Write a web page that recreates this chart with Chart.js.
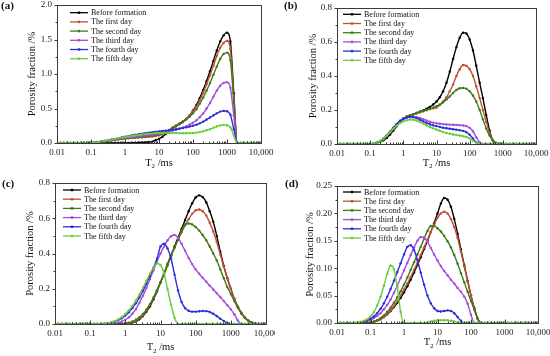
<!DOCTYPE html>
<html lang="en">
<head>
<meta charset="UTF-8">
<title>T2 spectra</title>
<script src="https://cdn.jsdelivr.net/npm/chart.js"></script>
<style>
  body { margin: 0; background: #fff; width: 550px; height: 356px; overflow: hidden; position: relative; }
  canvas { position: absolute; }
</style>
</head>
<body>
<canvas id="pa" width="275" height="178" style="left:0;top:0"></canvas>
<canvas id="pb" width="275" height="178" style="left:275px;top:0"></canvas>
<canvas id="pc" width="275" height="178" style="left:0;top:178px"></canvas>
<canvas id="pd" width="275" height="178" style="left:275px;top:178px"></canvas>
<script>
// T2 relaxation times (ms), shared by all four panels
const T2 = [
  0.01, 0.0126, 0.0158, 0.02, 0.0251, 0.0316, 0.0398, 0.0501, 0.0631, 0.0794,
  0.1, 0.126, 0.158, 0.2, 0.251, 0.316, 0.398, 0.501, 0.631, 0.794,
  1, 1.26, 1.58, 2, 2.51, 3.16, 3.98, 5.01, 6.31, 7.94,
  10, 12.6, 15.8, 20, 25.1, 31.6, 39.8, 50.1, 63.1, 79.4,
  100, 126, 158, 200, 251, 316, 398, 501, 631, 794,
  1000, 1259, 1585, 1995, 2512, 3162, 3981, 5012, 6310, 7943,
  10000
];
const seriesNames = ['Before formation', 'The first day', 'The second day', 'The third day', 'The fourth day', 'The fifth day'];
const xTickValues = [0.01, 0.1, 1, 10, 100, 1000, 10000];
const xTickLabels = ['0.01', '0.1', '1', '10', '100', '1000', '10,000'];
const colors = ['#000000', '#c24f33', '#3d7a1c', '#a24ddb', '#2b2fd6', '#6ccb3d'];

// panel (a)
const aBefore = [
  0, 0, 0, 0, 0, 0, 0, 0, 0, 0,
  0, 0, 0, 0, 0, 0, 0, 0, 0, 0,
  0, 0, 0.003, 0.005, 0.007, 0.009, 0.011, 0.014, 0.02, 0.04,
  0.06, 0.09, 0.13, 0.18, 0.22, 0.25, 0.28, 0.31, 0.35, 0.4,
  0.47, 0.55, 0.65, 0.77, 0.9, 1.04, 1.19, 1.34, 1.47, 1.56,
  1.6, 1.47, 0.72, 0, 0, 0, 0, 0, 0, 0,
  0
];
const aDay1 = [
  0, 0, 0, 0, 0, 0, 0, 0, 0, 0,
  0.003, 0.006, 0.01, 0.015, 0.02, 0.027, 0.035, 0.042, 0.05, 0.056,
  0.062, 0.067, 0.071, 0.075, 0.078, 0.081, 0.085, 0.089, 0.094, 0.1,
  0.11, 0.13, 0.16, 0.19, 0.22, 0.25, 0.28, 0.31, 0.35, 0.4,
  0.46, 0.53, 0.62, 0.73, 0.85, 0.98, 1.12, 1.26, 1.38, 1.45,
  1.48, 1.36, 0.67, 0, 0, 0, 0, 0, 0, 0,
  0
];
const aDay2 = [
  0, 0, 0, 0, 0, 0, 0, 0, 0, 0,
  0.004, 0.008, 0.013, 0.019, 0.026, 0.034, 0.042, 0.05, 0.057, 0.063,
  0.068, 0.073, 0.078, 0.083, 0.088, 0.093, 0.098, 0.104, 0.11, 0.117,
  0.125, 0.14, 0.16, 0.185, 0.21, 0.24, 0.27, 0.3, 0.34, 0.38,
  0.43, 0.49, 0.57, 0.66, 0.76, 0.87, 0.99, 1.11, 1.22, 1.29,
  1.31, 1.2, 0.6, 0, 0, 0, 0, 0, 0, 0,
  0
];
const aDay3 = [
  0, 0, 0, 0, 0, 0, 0, 0, 0, 0,
  0.004, 0.008, 0.014, 0.02, 0.028, 0.036, 0.045, 0.053, 0.06, 0.067,
  0.073, 0.079, 0.085, 0.091, 0.097, 0.103, 0.109, 0.116, 0.123, 0.13,
  0.138, 0.147, 0.157, 0.168, 0.18, 0.193, 0.207, 0.222, 0.24, 0.265,
  0.295, 0.33, 0.375, 0.43, 0.5, 0.58, 0.67, 0.76, 0.83, 0.87,
  0.88, 0.8, 0.4, 0, 0, 0, 0, 0, 0, 0,
  0
];
const aDay4 = [
  0, 0, 0, 0, 0, 0, 0, 0, 0, 0,
  0.005, 0.01, 0.016, 0.023, 0.031, 0.04, 0.05, 0.06, 0.07, 0.08,
  0.09, 0.1, 0.11, 0.12, 0.128, 0.136, 0.143, 0.15, 0.156, 0.162,
  0.168, 0.174, 0.18, 0.186, 0.193, 0.2, 0.208, 0.217, 0.227, 0.238,
  0.25, 0.265, 0.285, 0.31, 0.34, 0.37, 0.4, 0.43, 0.455, 0.465,
  0.46, 0.41, 0.2, 0, 0, 0, 0, 0, 0, 0,
  0
];
const aDay5 = [
  0, 0, 0, 0, 0, 0, 0, 0, 0, 0,
  0.005, 0.01, 0.016, 0.023, 0.031, 0.04, 0.05, 0.06, 0.07, 0.078,
  0.086, 0.094, 0.102, 0.11, 0.117, 0.124, 0.13, 0.135, 0.139, 0.142,
  0.144, 0.145, 0.146, 0.146, 0.145, 0.144, 0.143, 0.142, 0.142, 0.143,
  0.145, 0.15, 0.158, 0.17, 0.185, 0.2, 0.22, 0.24, 0.255, 0.262,
  0.258, 0.225, 0.11, 0, 0, 0, 0, 0, 0, 0,
  0
];

// panel (b)
const bBefore = [
  0, 0, 0, 0, 0, 0, 0, 0, 0, 0,
  0, 0.002, 0.006, 0.012, 0.022, 0.036, 0.055, 0.08, 0.105, 0.13,
  0.148, 0.16, 0.168, 0.175, 0.182, 0.19, 0.198, 0.207, 0.218, 0.232,
  0.25, 0.275, 0.31, 0.36, 0.425, 0.5, 0.57, 0.625, 0.655, 0.65,
  0.615, 0.55, 0.46, 0.36, 0.27, 0.17, 0.08, 0.02, 0, 0,
  0, 0, 0, 0, 0, 0, 0, 0, 0, 0,
  0
];
const bDay1 = [
  0, 0, 0, 0, 0, 0, 0, 0, 0, 0,
  0, 0.003, 0.008, 0.016, 0.028, 0.045, 0.065, 0.09, 0.113, 0.135,
  0.15, 0.16, 0.168, 0.175, 0.181, 0.187, 0.193, 0.199, 0.205, 0.21,
  0.215, 0.23, 0.25, 0.275, 0.31, 0.35, 0.4, 0.44, 0.465, 0.46,
  0.44, 0.4, 0.34, 0.27, 0.2, 0.13, 0.065, 0.02, 0, 0,
  0, 0, 0, 0, 0, 0, 0, 0, 0, 0,
  0
];
const bDay2 = [
  0, 0, 0, 0, 0, 0, 0, 0, 0, 0,
  0, 0.003, 0.008, 0.016, 0.028, 0.045, 0.066, 0.09, 0.113, 0.135,
  0.15, 0.16, 0.168, 0.175, 0.182, 0.188, 0.194, 0.2, 0.207, 0.214,
  0.222, 0.232, 0.245, 0.262, 0.28, 0.3, 0.318, 0.328, 0.33, 0.325,
  0.31, 0.285, 0.25, 0.2, 0.145, 0.09, 0.05, 0.022, 0.007, 0,
  0, 0, 0, 0, 0, 0, 0, 0, 0, 0,
  0
];
const bDay3 = [
  0, 0, 0, 0, 0, 0, 0, 0, 0, 0,
  0, 0.003, 0.009, 0.018, 0.032, 0.05, 0.072, 0.095, 0.117, 0.135,
  0.148, 0.155, 0.159, 0.16, 0.158, 0.153, 0.146, 0.138, 0.131, 0.126,
  0.122, 0.119, 0.117, 0.115, 0.114, 0.113, 0.112, 0.111, 0.109, 0.105,
  0.095, 0.075, 0.04, 0.01, 0, 0, 0, 0, 0, 0,
  0, 0, 0, 0, 0, 0, 0, 0, 0, 0,
  0
];
const bDay4 = [
  0, 0, 0, 0, 0, 0, 0, 0, 0, 0,
  0, 0.003, 0.009, 0.018, 0.032, 0.05, 0.072, 0.095, 0.117, 0.135,
  0.148, 0.156, 0.16, 0.158, 0.152, 0.143, 0.133, 0.124, 0.116, 0.11,
  0.105, 0.1, 0.096, 0.093, 0.09, 0.087, 0.084, 0.081, 0.077, 0.07,
  0.055, 0.032, 0.01, 0, 0, 0, 0, 0, 0, 0,
  0, 0, 0, 0, 0, 0, 0, 0, 0, 0,
  0
];
const bDay5 = [
  0, 0, 0, 0, 0, 0, 0, 0, 0, 0,
  0, 0.003, 0.009, 0.018, 0.032, 0.05, 0.07, 0.09, 0.108, 0.122,
  0.133, 0.14, 0.144, 0.143, 0.138, 0.13, 0.12, 0.11, 0.1, 0.092,
  0.085, 0.078, 0.071, 0.065, 0.06, 0.056, 0.053, 0.05, 0.046, 0.041,
  0.033, 0.02, 0.007, 0, 0, 0, 0, 0, 0, 0,
  0, 0, 0, 0, 0, 0, 0, 0, 0, 0,
  0
];

// panel (c)
const cBefore = [
  0, 0, 0, 0, 0, 0, 0, 0, 0, 0,
  0, 0, 0, 0, 0, 0, 0, 0, 0, 0,
  0.002, 0.004, 0.008, 0.015, 0.027, 0.045, 0.07, 0.1, 0.14, 0.185,
  0.235, 0.285, 0.34, 0.39, 0.44, 0.49, 0.54, 0.59, 0.64, 0.685,
  0.718, 0.73, 0.72, 0.69, 0.64, 0.58, 0.5, 0.41, 0.33, 0.26,
  0.2, 0.14, 0.095, 0.06, 0.035, 0.018, 0.008, 0.003, 0, 0,
  0
];
const cDay1 = [
  0, 0, 0, 0, 0, 0, 0, 0, 0, 0,
  0, 0, 0, 0, 0, 0, 0, 0, 0, 0,
  0.003, 0.006, 0.011, 0.019, 0.032, 0.05, 0.076, 0.107, 0.146, 0.19,
  0.238, 0.287, 0.337, 0.385, 0.432, 0.478, 0.52, 0.56, 0.595, 0.625,
  0.645, 0.65, 0.64, 0.615, 0.575, 0.525, 0.465, 0.395, 0.325, 0.26,
  0.2, 0.145, 0.1, 0.064, 0.037, 0.019, 0.008, 0.003, 0, 0,
  0
];
const cDay2 = [
  0, 0, 0, 0, 0, 0, 0, 0, 0, 0,
  0, 0, 0, 0, 0, 0, 0, 0, 0, 0,
  0.004, 0.008, 0.014, 0.024, 0.038, 0.057, 0.082, 0.113, 0.15, 0.192,
  0.237, 0.283, 0.33, 0.39, 0.435, 0.48, 0.53, 0.565, 0.57, 0.565,
  0.55, 0.53, 0.505, 0.475, 0.44, 0.4, 0.36, 0.31, 0.26, 0.21,
  0.17, 0.13, 0.094, 0.062, 0.037, 0.019, 0.008, 0.003, 0, 0,
  0
];
const cDay3 = [
  0, 0, 0, 0, 0, 0, 0, 0, 0, 0,
  0, 0, 0, 0, 0, 0, 0.002, 0.004, 0.008, 0.014,
  0.024, 0.038, 0.058, 0.085, 0.12, 0.16, 0.205, 0.255, 0.305, 0.355,
  0.4, 0.44, 0.475, 0.498, 0.505, 0.49, 0.455, 0.415, 0.375, 0.34,
  0.31, 0.285, 0.262, 0.24, 0.218, 0.196, 0.175, 0.153, 0.13, 0.107,
  0.083, 0.055, 0.02, 0, 0, 0, 0, 0, 0, 0,
  0
];
const cDay4 = [
  0, 0, 0, 0, 0, 0, 0, 0, 0, 0,
  0, 0, 0, 0, 0.002, 0.004, 0.008, 0.014, 0.022, 0.033,
  0.048, 0.067, 0.09, 0.118, 0.15, 0.187, 0.228, 0.272, 0.32, 0.37,
  0.44, 0.455, 0.43, 0.37, 0.28, 0.19, 0.125, 0.09, 0.075, 0.07,
  0.07, 0.072, 0.074, 0.073, 0.068, 0.058, 0.045, 0.03, 0.017, 0.007,
  0, 0, 0, 0, 0, 0, 0, 0, 0, 0,
  0
];
const cDay5 = [
  0, 0, 0, 0, 0, 0, 0, 0, 0, 0,
  0, 0, 0, 0, 0.002, 0.005, 0.01, 0.017, 0.027, 0.04,
  0.057, 0.078, 0.103, 0.133, 0.167, 0.205, 0.245, 0.285, 0.32, 0.343,
  0.335, 0.29, 0.2, 0.11, 0.035, 0, 0, 0, 0, 0,
  0, 0, 0, 0, 0, 0, 0, 0, 0, 0,
  0, 0, 0, 0, 0, 0, 0, 0, 0, 0,
  0
];

// panel (d)
const dBefore = [
  0, 0, 0, 0, 0, 0, 0, 0, 0, 0,
  0.001, 0.002, 0.004, 0.007, 0.011, 0.016, 0.022, 0.029, 0.037, 0.046,
  0.056, 0.067, 0.079, 0.092, 0.106, 0.12, 0.135, 0.15, 0.166, 0.182,
  0.2, 0.218, 0.228, 0.225, 0.212, 0.19, 0.163, 0.134, 0.105, 0.077,
  0.05, 0.027, 0.008, 0, 0, 0, 0, 0, 0, 0,
  0, 0, 0, 0, 0, 0, 0, 0, 0, 0,
  0
];
const dDay1 = [
  0, 0, 0, 0, 0, 0, 0, 0, 0, 0,
  0.001, 0.002, 0.004, 0.007, 0.011, 0.016, 0.023, 0.031, 0.04, 0.05,
  0.061, 0.072, 0.084, 0.097, 0.11, 0.124, 0.138, 0.152, 0.166, 0.18,
  0.192, 0.2, 0.203, 0.2, 0.19, 0.175, 0.155, 0.13, 0.103, 0.076,
  0.05, 0.027, 0.008, 0, 0, 0, 0, 0, 0, 0,
  0, 0, 0, 0, 0, 0, 0, 0, 0, 0,
  0
];
const dDay2 = [
  0, 0, 0, 0, 0, 0, 0, 0, 0, 0,
  0.001, 0.003, 0.005, 0.009, 0.014, 0.02, 0.028, 0.037, 0.047, 0.058,
  0.07, 0.083, 0.097, 0.111, 0.125, 0.139, 0.154, 0.168, 0.177, 0.177,
  0.173, 0.167, 0.159, 0.149, 0.138, 0.124, 0.108, 0.091, 0.074, 0.057,
  0.04, 0.024, 0.008, 0, 0, 0, 0, 0, 0, 0,
  0, 0, 0, 0, 0, 0, 0, 0, 0, 0,
  0
];
const dDay3 = [
  0, 0, 0, 0, 0, 0, 0, 0.001, 0.002, 0.004,
  0.006, 0.009, 0.013, 0.018, 0.025, 0.033, 0.043, 0.055, 0.068, 0.082,
  0.096, 0.11, 0.124, 0.138, 0.15, 0.157, 0.156, 0.148, 0.137, 0.125,
  0.114, 0.104, 0.095, 0.087, 0.079, 0.072, 0.064, 0.057, 0.048, 0.035,
  0.015, 0, 0, 0, 0, 0, 0, 0, 0, 0,
  0, 0, 0, 0, 0, 0, 0, 0, 0, 0,
  0
];
const dDay4 = [
  0, 0, 0, 0, 0, 0, 0, 0.001, 0.003, 0.005,
  0.008, 0.012, 0.018, 0.026, 0.036, 0.048, 0.062, 0.077, 0.093, 0.109,
  0.125, 0.139, 0.142, 0.133, 0.115, 0.092, 0.07, 0.05, 0.036, 0.027,
  0.022, 0.021, 0.022, 0.023, 0.022, 0.018, 0.011, 0.004, 0, 0,
  0, 0, 0, 0, 0, 0, 0, 0, 0, 0,
  0, 0, 0, 0, 0, 0, 0, 0, 0, 0,
  0
];
const dDay5 = [
  0, 0, 0, 0, 0, 0, 0.001, 0.002, 0.004, 0.007,
  0.012, 0.02, 0.032, 0.048, 0.068, 0.09, 0.105, 0.098, 0.065, 0.02,
  0, 0, 0, 0, 0, 0, 0, 0.001, 0.003, 0.004,
  0.005, 0.005, 0.005, 0.005, 0.004, 0.003, 0.001, 0, 0, 0,
  0, 0, 0, 0, 0, 0, 0, 0, 0, 0,
  0, 0, 0, 0, 0, 0, 0, 0, 0, 0,
  0
];

const serif = '"Liberation Serif", "Times New Roman", serif';

// frame, ticks, legend, titles and panel letter
const decorPlugin = {
  id: 'decor',
  afterDraw(chart, args, o) {
    const ctx = chart.ctx;
    const area = chart.chartArea;
    const xs = chart.scales.x;
    const ys = chart.scales.y;
    const L = Math.round(area.left) + 0.5, R = Math.round(area.right) + 0.5;
    const T = Math.round(area.top) + 0.5, B = Math.round(area.bottom) + 0.5;
    ctx.save();
    ctx.strokeStyle = '#3a3a3a';
    ctx.lineWidth = 1;
    ctx.strokeRect(L, T, R - L, B - T);

    ctx.beginPath();
    const n = Math.round(o.ymax / o.minor);
    for (let k = 0; k <= n; k++) {
      const py = Math.round(ys.getPixelForValue(k * o.minor)) + 0.5;
      const len = k % 2 === 0 ? 3 : 2;
      ctx.moveTo(L, py);
      ctx.lineTo(L - len, py);
    }
    for (let d = -2; d <= 4; d++) {
      for (let m = 1; m <= (d === 4 ? 1 : 9); m++) {
        const px = Math.round(xs.getPixelForValue(m * Math.pow(10, d))) + 0.5;
        const len = m === 1 ? 4 : 2;
        ctx.moveTo(px, B);
        ctx.lineTo(px, B - len);
      }
    }
    ctx.stroke();

    // legend
    ctx.font = '8px ' + serif;
    ctx.textBaseline = 'middle';
    ctx.textAlign = 'left';
    chart.data.datasets.forEach((ds, k) => {
      const y = area.top + o.legY + k * 9.2;
      const x0 = area.left + o.legX;
      ctx.strokeStyle = ds.borderColor;
      ctx.lineWidth = 1.3;
      ctx.beginPath();
      ctx.moveTo(x0, y);
      ctx.lineTo(x0 + 18, y);
      ctx.stroke();
      ctx.fillStyle = ds.borderColor;
      ctx.fillRect(x0 + 7.8, y - 1.2, 2.4, 2.4);
      ctx.fillStyle = '#111';
      ctx.fillText(ds.label, x0 + 21, y + 0.5);
    });

    // y title
    ctx.fillStyle = '#111';
    ctx.font = '10.5px ' + serif;
    ctx.textAlign = 'center';
    ctx.save();
    ctx.translate(o.yTitleX, (area.top + area.bottom) / 2);
    ctx.rotate(-Math.PI / 2);
    ctx.fillText('Porosity fraction /%', 0, 0);
    ctx.restore();

    // x title with subscript
    const big = '10.5px ' + serif, small = '7px ' + serif;
    ctx.textAlign = 'left';
    ctx.textBaseline = 'alphabetic';
    ctx.font = big;
    const wT = ctx.measureText('T').width;
    const wR = ctx.measureText(' /ms').width;
    ctx.font = small;
    const w2 = ctx.measureText('2').width;
    let x = (area.left + area.right) / 2 - (wT + w2 + wR) / 2;
    const yb = o.xTitleY + 3.5;
    ctx.font = big;
    ctx.fillText('T', x, yb);
    x += wT;
    ctx.font = small;
    ctx.fillText('2', x, yb + 2.5);
    x += w2;
    ctx.font = big;
    ctx.fillText(' /ms', x, yb);

    // panel letter
    ctx.font = 'bold 11px ' + serif;
    ctx.textBaseline = 'middle';
    ctx.fillText(o.label, o.labelX, o.labelY);
    ctx.restore();
  }
};

function makePanel(id, series, p) {
  new Chart(document.getElementById(id), {
    type: 'line',
    data: {
      datasets: series.map((vals, k) => ({
        label: seriesNames[k],
        data: vals.map((v, i) => ({ x: T2[i], y: v })),
        borderColor: colors[k],
        backgroundColor: colors[k],
        borderWidth: 1.4,
        pointRadius: 1.2,
        pointBorderWidth: 0,
        cubicInterpolationMode: 'monotone',
        fill: false,
        order: 5 - k
      }))
    },
    options: {
      responsive: false,
      animation: false,
      devicePixelRatio: 1,
      layout: { padding: { left: 0, top: p.padTop, right: p.padRight, bottom: 0 } },
      plugins: {
        legend: { display: false },
        tooltip: { enabled: false },
        decor: p
      },
      scales: {
        x: {
          type: 'logarithmic',
          min: 0.01,
          max: 10000,
          grid: { display: false, drawTicks: false },
          border: { display: false },
          ticks: {
            autoSkip: false,
            maxRotation: 0,
            minRotation: 0,
            padding: 4,
            color: '#222',
            font: { family: serif, size: 9 },
            callback: (v, i) => xTickLabels[i]
          },
          afterBuildTicks: s => { s.ticks = xTickValues.map(v => ({ value: v })); },
          afterFit: s => { s.height = p.xh; s.paddingLeft = 0; s.paddingRight = 0; }
        },
        y: {
          min: 0,
          max: p.ymax,
          grid: { display: false, drawTicks: false },
          border: { display: false },
          ticks: {
            stepSize: p.step,
            padding: 5,
            color: '#222',
            font: { family: serif, size: 9 },
            callback: v => v.toFixed(p.dec)
          },
          afterFit: s => { s.width = p.yw; s.paddingTop = 0; s.paddingBottom = 0; }
        }
      }
    },
    plugins: [decorPlugin]
  });
}

makePanel('pa', [aBefore, aDay1, aDay2, aDay3, aDay4, aDay5], {
  yw: 57, xh: 35, padTop: 5, padRight: 14, ymax: 2, step: 0.5, minor: 0.25, dec: 1,
  legX: 13, legY: 7.7, yTitleX: 32, xTitleY: 162, label: '(a)', labelX: 1, labelY: 6
});
makePanel('pb', [bBefore, bDay1, bDay2, bDay3, bDay4, bDay5], {
  yw: 62, xh: 34, padTop: 8, padRight: 14, ymax: 0.8, step: 0.2, minor: 0.1, dec: 1,
  legX: 6, legY: 6.3, yTitleX: 38, xTitleY: 162, label: '(b)', labelX: 9, labelY: 6
});
makePanel('pc', [cBefore, cDay1, cDay2, cDay3, cDay4, cDay5], {
  yw: 55, xh: 32, padTop: 5, padRight: 9, ymax: 0.8, step: 0.2, minor: 0.1, dec: 1,
  legX: 8, legY: 7, yTitleX: 30, xTitleY: 168.5, label: '(c)', labelX: 2, labelY: 6
});
makePanel('pd', [dBefore, dDay1, dDay2, dDay3, dDay4, dDay5], {
  yw: 62, xh: 33, padTop: 8, padRight: 12, ymax: 0.25, step: 0.05, minor: 0.025, dec: 2,
  legX: 6, legY: 6, yTitleX: 35, xTitleY: 163.5, label: '(d)', labelX: 10, labelY: 6
});
</script>
</body>
</html>
